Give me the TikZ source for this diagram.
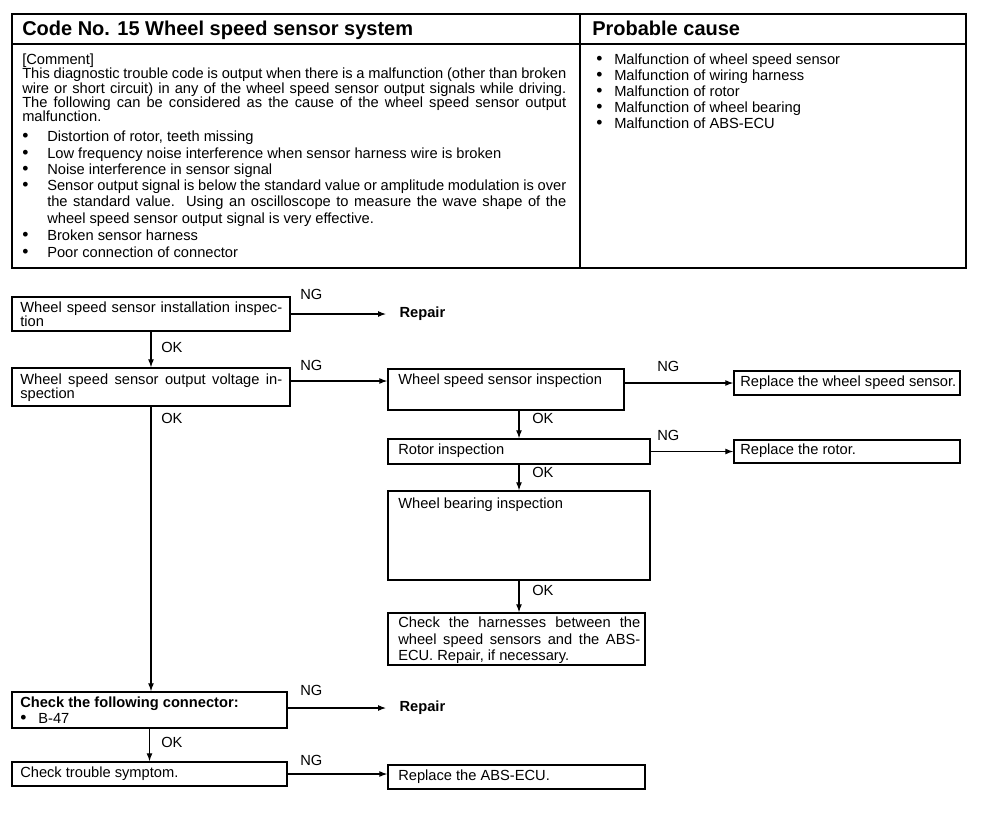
\documentclass[tikz,border=0pt]{standalone}
\usepackage{fontspec}
\setmainfont{Liberation Sans}
\usetikzlibrary{arrows.meta,fit}
\newlength\pxu \setlength\pxu{0.75pt}
\newcommand\jl[2]{\makebox[#1\pxu][s]{#2}}
\newcommand\bul{\scalebox{1.2}{\textbullet}}
\begin{document}
\begin{tikzpicture}[x=0.75pt,y=-0.75pt,
  txt/.style={inner sep=0, anchor=west, text height=8pt, text depth=2.3pt, font=\fontsize{11}{12.5}\selectfont},
  hdr/.style={inner sep=0, anchor=west, text height=10.8pt, text depth=3pt, font=\fontsize{15}{17}\selectfont\bfseries},
  box/.style={draw, line width=1.1pt, inner sep=0},
  cell/.style={draw, line width=1.4pt, inner sep=0},
  arr/.style={line width=0.8pt, -{Latex[length=6pt,width=4.5pt]}}]
\useasboundingbox (0,0) rectangle (1008,814);
% ---------- table ----------
\node[cell, fit={(12,14)(580,44)}] (hl) {};
\node[cell, fit={(580,14)(966,44)}] (hr) {};
\node[cell, fit={(12,44)(580,268)}] (bl) {};
\node[cell, fit={(580,44)(966,268)}] (br) {};
\node[hdr] (ht1) at (22,30) {Code No. 15 Wheel speed sensor system};
\node[hdr] (ht2) at (592,30) {Probable cause};
\node[txt] (c0) at (22,61) {[Comment]};
\node[txt] (c1) at (22,75) {\jl{544}{This diagnostic trouble code is output when there is a malfunction (other than broken}};
\node[txt] (c2) at (22,90) {\jl{544}{wire or short circuit) in any of the wheel speed sensor output signals while driving.}};
\node[txt] (c3) at (22,104) {\jl{544}{The following can be considered as the cause of the wheel speed sensor output}};
\node[txt] (c4) at (22,118) {malfunction.};
\node[txt] (cb1) at (22,138) {\bul};
\node[txt] (ct1) at (47,138) {Distortion of rotor, teeth missing};
\node[txt] (cb2) at (22,155) {\bul};
\node[txt] (ct2) at (47,155) {Low frequency noise interference when sensor harness wire is broken};
\node[txt] (cb3) at (22,171) {\bul};
\node[txt] (ct3) at (47,171) {Noise interference in sensor signal};
\node[txt] (cb4) at (22,187) {\bul};
\node[txt] (ct4) at (47,187) {\jl{519}{Sensor output signal is below the standard value or amplitude modulation is over}};
\node[txt] (ct5) at (47,203) {\jl{519}{the standard value.\ \ Using an oscilloscope to measure the wave shape of the}};
\node[txt] (ct6) at (47,220) {wheel speed sensor output signal is very effective.};
\node[txt] (cb7) at (22,237) {\bul};
\node[txt] (ct7) at (47,237) {Broken sensor harness};
\node[txt] (cb8) at (22,254) {\bul};
\node[txt] (ct8) at (47,254) {Poor connection of connector};
\node[txt] (pb1) at (596,61) {\bul};
\node[txt] (pt1) at (614,61) {Malfunction of wheel speed sensor};
\node[txt] (pb2) at (596,77) {\bul};
\node[txt] (pt2) at (614,77) {Malfunction of wiring harness};
\node[txt] (pb3) at (596,93) {\bul};
\node[txt] (pt3) at (614,93) {Malfunction of rotor};
\node[txt] (pb4) at (596,109) {\bul};
\node[txt] (pt4) at (614,109) {Malfunction of wheel bearing};
\node[txt] (pb5) at (596,125) {\bul};
\node[txt] (pt5) at (614,125) {Malfunction of ABS-ECU};
% ---------- flowchart ----------
\node[box, fit={(12,297)(290,331)}] (A) {};
\node[txt] (At1) at (20,309) {\jl{262}{Wheel speed sensor installation inspec-}};
\node[txt] (At2) at (20,323) {tion};
\node[txt, inner xsep=10pt] (R1) at (386,314) {\bfseries Repair};
\node[txt] (NG1) at (300,296) {NG};
\draw[arr] (A.east) -- (R1.west);

\node[box, fit={(12,368)(290,406)}] (B) {};
\node[txt] (Bt1) at (20,381) {\jl{262}{Wheel speed sensor output voltage in-}};
\node[txt] (Bt2) at (20,395) {spection};
\draw[arr] (A.south) -- (B.north);
\node[txt] (OK1) at (161,349) {OK};

\node[box, fit={(388,369)(624,410)}] (C) {};
\node[txt] (Ct) at (398,381) {Wheel speed sensor inspection};
\node[txt] (NG2) at (300,367) {NG};
\draw[arr] (B.east |- Ct.west) -- (C.west |- Ct.west);

\node[box, fit={(734,371)(960,395)}] (RWS) {};
\node[txt] (RWSt) at (740,383) {Replace the wheel speed sensor.};
\node[txt] (NG3) at (657,368) {NG};
\draw[arr] (C.east |- RWS.west) -- (RWS.west);

\node[box, fit={(388,439)(650,464)}] (D) {};
\node[txt] (Dt) at (398,451) {Rotor inspection};
\draw[arr] (D.north |- C.south) -- (D.north);
\node[txt] (OK2) at (532,420) {OK};

\node[box, fit={(734,440)(960,463)}] (RR) {};
\node[txt] (RRt) at (740,451) {Replace the rotor.};
\node[txt] (NG4) at (657,437) {NG};
\draw[arr] (D.east) -- (RR.west);

\node[box, fit={(388,491)(650,580)}] (E) {};
\node[txt] (Et) at (398,505) {Wheel bearing inspection};
\draw[arr] (D.south) -- (E.north);
\node[txt] (OK3) at (532,474) {OK};

\node[box, fit={(388,613)(645,665)}] (F) {};
\node[txt] (Ft1) at (398,624) {\jl{242}{Check the harnesses between the}};
\node[txt] (Ft2) at (398,641) {\jl{242}{wheel speed sensors and the ABS-}};
\node[txt] (Ft3) at (398,657) {ECU. Repair, if necessary.};
\draw[arr] (E.south) -- (E.south |- F.north);
\node[txt] (OK4) at (532,592) {OK};

\node[box, fit={(12,692)(287,728)}] (G) {};
\node[txt] (Gt1) at (20,704) {\bfseries Check the following connector:};
\node[txt] (Gt2) at (20,720) {\bul\hspace{12\pxu}B-47};
\draw[arr] (B.south) -- (B.south |- G.north);
\node[txt] (OK5) at (161,420) {OK};
\node[txt, inner xsep=10pt] (R2) at (386,708) {\bfseries Repair};
\node[txt] (NG5) at (300,692) {NG};
\draw[arr] (G.east |- R2.west) -- (R2.west);

\node[box, fit={(12,762)(287,786)}] (H) {};
\node[txt] (Ht) at (20,774) {Check trouble symptom.};
\draw[arr] (G.south) -- (H.north);
\node[txt] (OK6) at (161,744) {OK};

\node[box, fit={(388,765)(645,789)}] (RA) {};
\node[txt] (RAt) at (398,777) {Replace the ABS-ECU.};
\node[txt] (NG6) at (300,762) {NG};
\draw[arr] (H.east) -- (RA.west |- H.east);
\end{tikzpicture}
\end{document}
